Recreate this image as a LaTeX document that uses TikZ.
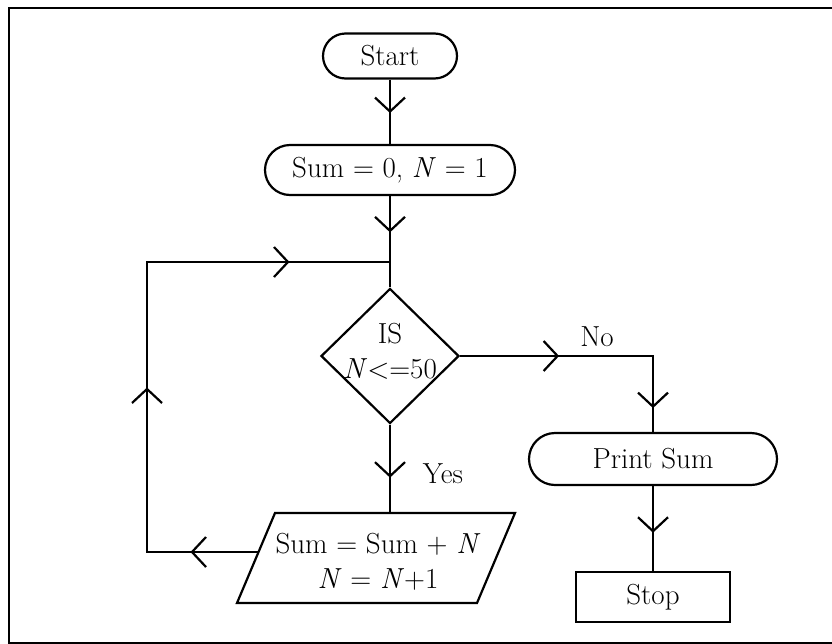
\documentclass[tikz,border=0pt]{standalone}
\usepackage{fontspec}
\usetikzlibrary{shapes.misc,shapes.geometric,arrows.meta,decorations.markings}
\newcommand\dfont{\fontsize{29}{35}\selectfont}
\newcommand\NN{\textit{N}}
\tikzset{
  ln/.style={line width=2.2pt},
  >={Straight Barb[length=14pt,width=30pt]},
  term/.style={draw, ln, rounded rectangle, inner sep=0pt, font=\dfont},
  procbox/.style={draw, ln, rectangle, inner sep=0pt, font=\dfont},
  txt/.style={font=\dfont, inner sep=0pt, align=center},
  midarr/.style={postaction={decorate},decoration={markings,mark=at position #1 with {\arrow{>}}}},
}
\begin{document}
\begin{tikzpicture}[x=1pt,y=-1pt]
\useasboundingbox (0,0) rectangle (832,643);
\draw[ln] (9,8) rectangle (860,643);
% nodes
\node[term, minimum width=134pt, minimum height=45pt] (start) at (390,56) {Start};
\node[term, minimum width=250pt, minimum height=50pt] (init) at (390,170) {Sum = 0, \NN{} = 1};
\coordinate (junc) at (390,262);
\node[draw, ln, diamond, minimum width=138pt, minimum height=135pt, inner sep=0pt] (dec) at (390,356) {};
\node[txt] (dectext) at (390,351) {IS\\\NN<=50};
% parallelogram
\coordinate (pA) at (275,513);
\coordinate (pB) at (515,513);
\coordinate (pC) at (477,603);
\coordinate (pD) at (237,603);
\coordinate (pleft) at (258.5,552);
\draw[ln, line join=miter] (pA) -- (pB) -- (pC) -- (pD) -- cycle;
\node[txt] (para) at (378,562) {Sum = Sum + \NN\\\NN{} = \NN+1};
\coordinate (cBL) at (147,552);
\coordinate (cTL) at (147,262);
\coordinate (nocorner) at (653,356);
\node[term, minimum width=248pt, minimum height=52pt] (print) at (653,459) {Print Sum};
\node[procbox, minimum width=154pt, minimum height=50pt] (stop) at (653,597) {Stop};
\node[txt] (yes) at (443,474) {Yes};
\node[txt] (no) at (597,337) {No};
% connectors
\draw[ln, midarr=0.52] (start.south) -- (init.north);
\draw[ln, midarr=0.55] (init.south) -- (junc);
\draw[ln] (junc) -- (dec.north);
\draw[ln, midarr=0.6] (dec.south) -- (dec.south |- pA);
\draw[ln, line join=miter, postaction={decorate}, decoration={markings,
  mark=at position 68pt with {\arrow{>}},
  mark=at position 276pt with {\arrow{>}},
  mark=at position 544pt with {\arrow{>}}}]
  (pleft) -- (cBL) -- (cTL) -- (junc);
\draw[ln, line join=miter, postaction={decorate}, decoration={markings,
  mark=at position 99pt with {\arrow{>}},
  mark=at position 245pt with {\arrow{>}}}]
  (dec.east) -- (nocorner) -- (print.north);
\draw[ln, midarr=0.55] (print.south) -- (stop.north);
\end{tikzpicture}
\end{document}
